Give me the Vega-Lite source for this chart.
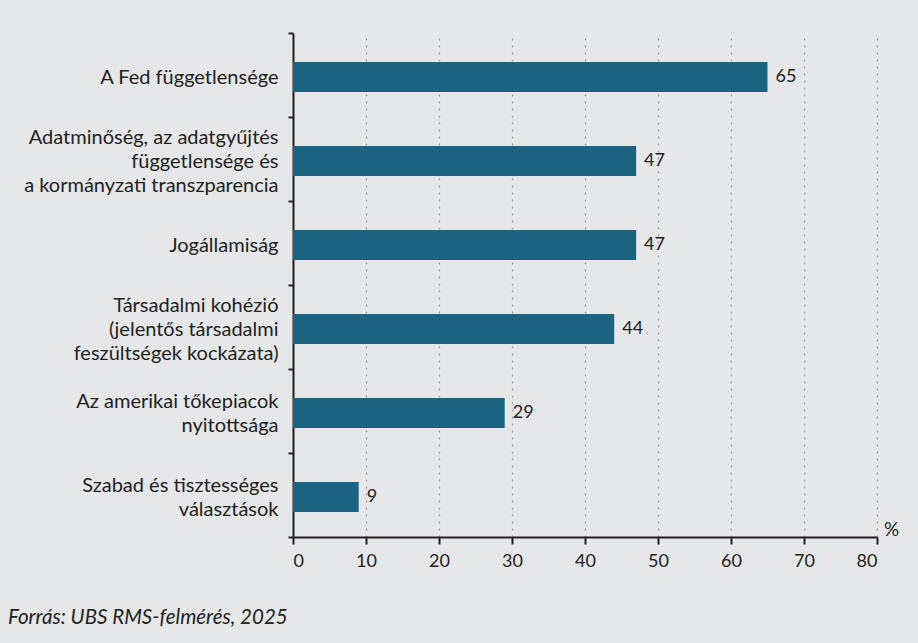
{
  "$schema": "https://vega.github.io/schema/vega-lite/v6.json",
  "autosize": "none",
  "width": 584,
  "height": 504,
  "padding": {"left": 293, "top": 33, "right": 41, "bottom": 106},
  "background": "#e6e7e9",
  "data": {
    "values": [
      {"cat": "A Fed függetlensége", "value": 65},
      {"cat": "Adatminőség, az adatgyűjtés|függetlensége és|a kormányzati transzparencia", "value": 47},
      {"cat": "Jogállamiság", "value": 47},
      {"cat": "Társadalmi kohézió|(jelentős társadalmi|feszültségek kockázata)", "value": 44},
      {"cat": "Az amerikai tőkepiacok|nyitottsága", "value": 29},
      {"cat": "Szabad és tisztességes|választások", "value": 9}
    ]
  },
  "title": {
    "text": "Forrás: UBS RMS-felmérés, 2025",
    "orient": "bottom",
    "anchor": "start",
    "frame": "group",
    "dx": -285,
    "offset": 38,
    "font": "Lato",
    "fontSize": 20.5,
    "fontStyle": "italic",
    "fontWeight": "normal",
    "color": "#231f20"
  },
  "encoding": {
    "y": {
      "field": "cat",
      "type": "nominal",
      "sort": null,
      "scale": {"paddingInner": 0, "paddingOuter": 0},
      "axis": {
        "title": null,
        "labelExpr": "isValid(datum.value) ? split(datum.value, '|') : ''",
        "labelFont": "Lato",
        "labelFontSize": 20,
        "labelColor": "#231f20",
        "labelLineHeight": 24,
        "labelBaseline": "middle",
        "labelOffset": {
          "condition": [
            {"test": "isValid(datum.value) && length(split(datum.value, '|')) == 3", "value": -22},
            {"test": "isValid(datum.value) && length(split(datum.value, '|')) == 2", "value": -10}
          ],
          "value": 2
        },
        "labelPadding": 10,
        "labelLimit": 300,
        "tickBand": "extent",
        "tickSize": 5,
        "tickWidth": 2,
        "tickColor": "#231f20",
        "domainColor": "#231f20",
        "domainWidth": 2
      }
    },
    "x": {
      "field": "value",
      "type": "quantitative",
      "scale": {"domain": [0, 80], "nice": false},
      "axis": {
        "values": [0, 10, 20, 30, 40, 50, 60, 70, 80],
        "title": "%",
        "titleX": 598,
        "titleY": -2,
        "titleAlign": "center",
        "titleBaseline": "alphabetic",
        "titleFont": "Lato",
        "titleFontSize": 19,
        "titleFontWeight": "normal",
        "titleColor": "#231f20",
        "labelFont": "Lato",
        "labelFontSize": 18,
        "labelColor": "#231f20",
        "labelPadding": 8,
        "tickSize": 7,
        "tickWidth": 2,
        "tickColor": "#231f20",
        "domainColor": "#231f20",
        "domainWidth": 2,
        "grid": true,
        "gridColor": "#9a9a9a",
        "gridDash": [2, 5],
        "gridWidth": 1.2,
        "gridOpacity": {"condition": {"test": "datum.value === 0", "value": 0}, "value": 1}
      }
    }
  },
  "layer": [
    {
      "mark": {"type": "bar", "size": 30, "color": "#1a6482", "yOffset": 2}
    },
    {
      "mark": {"type": "text", "align": "left", "baseline": "middle", "dx": 8, "dy": 2, "font": "Lato", "fontSize": 18, "color": "#231f20"},
      "encoding": {"text": {"field": "value", "type": "quantitative"}}
    }
  ],
  "config": {"view": {"stroke": null}}
}
